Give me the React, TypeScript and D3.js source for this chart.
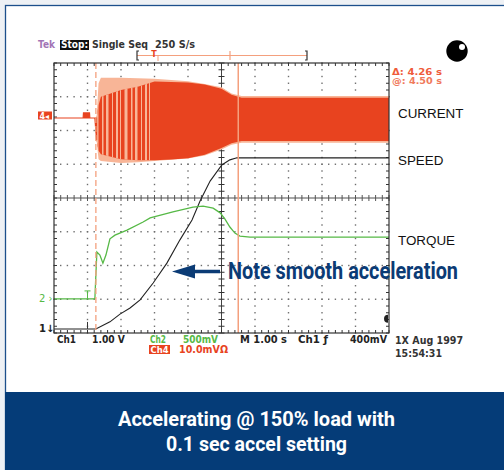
import React from 'react';
import * as d3 from 'd3';

// time in seconds (1.00 s/div), values in divisions (centre = 0)
const speedT = [0, 1.25, 1.67, 1.97, 2.27, 2.57, 2.96, 3.37, 3.76, 4.12, 4.36, 4.66, 5.01, 5.25, 5.46, 10];
const speedV = [-3.88, -3.88, -3.67, -3.44, -3.26, -3.02, -2.52, -1.93, -1.24, -0.65, -0.09, 0.5, 0.98, 1.13, 1.19, 1.19];

const torqueT = [0, 1.22, 1.25, 1.28, 1.37, 1.46, 1.55, 1.67, 1.82, 2.18, 2.66, 2.87, 3.55, 4.15, 4.45, 4.75, 4.96, 5.1, 5.25, 5.4, 5.55, 5.85, 10];
const torqueV = [-2.99, -2.99, -2.28, -1.6, -1.69, -1.93, -1.69, -1.21, -1.1, -0.95, -0.71, -0.59, -0.41, -0.27, -0.24, -0.3, -0.44, -0.62, -0.86, -1.04, -1.13, -1.16, -1.16];

const currentT = [0, 0.87, 0.88, 1.06, 1.07, 1.22, 1.27, 1.33, 1.4, 2.0, 2.5, 3.0, 3.5, 4.0, 4.5, 5.0, 5.3, 5.6, 10];
const currentHi = [2.37, 2.37, 2.52, 2.52, 2.37, 2.37, 2.37, 3.4, 3.56, 3.56, 3.55, 3.53, 3.5, 3.46, 3.38, 3.28, 3.1, 3.02, 3.02];
const currentLo = [2.37, 2.37, 2.37, 2.37, 2.37, 2.37, 1.72, 1.15, 1.1, 1.04, 1.06, 1.1, 1.13, 1.17, 1.26, 1.44, 1.58, 1.64, 1.64];
const coreHi = [2.37, 2.37, 2.52, 2.52, 2.37, 2.37, 2.37, 2.75, 3.0, 3.2, 3.3, 3.45, 3.44, 3.42, 3.36, 3.24, 3.06, 2.97, 2.97];
const coreLo = [2.37, 2.37, 2.37, 2.37, 2.37, 2.37, 1.72, 1.4, 1.3, 1.15, 1.12, 1.12, 1.14, 1.18, 1.28, 1.48, 1.62, 1.69, 1.69];

const traceNames = ['CURRENT', 'SPEED', 'TORQUE'];
const traceLabelV = [2.37, 0.98, -1.39];

const headerTexts = ['Tek', 'Stop:', 'Single Seq', '250 S/s'];
const cursorTexts = ['\u0394: 4.26 s', '@: 4.50 s'];
const footerTexts = ['Ch1', '1.00 V', 'Ch2', '500mV', 'M 1.00 s', 'Ch1 \u0192', '400mV'];
const footer2Texts = ['Ch4', '10.0mV\u03A9'];
const dateTexts = ['1X Aug 1997', '15:54:31'];
const noteText = 'Note smooth acceleration';
const captionLines = ['Accelerating @ 150% load with', '0.1 sec accel setting'];

const cursorTimes = [1.25, 5.5];
const triggerTime = 1.0;

const W = 504;
const H = 470;

export default function App() {
  const x = d3.scaleLinear().domain([0, 10]).range([54, 389]);
  const y = d3.scaleLinear().domain([-4, 4]).range([333, 63]);

  const lineGen = d3
    .line<[number, number]>()
    .x((d) => x(d[0]))
    .y((d) => y(d[1]));

  const speedPts = speedT.map((t, i) => [t, speedV[i]] as [number, number]);
  const torquePts = torqueT.map((t, i) => [t, torqueV[i]] as [number, number]);

  const cur = currentT.map((t, i) => ({ t, hi: currentHi[i], lo: currentLo[i], chi: coreHi[i], clo: coreLo[i] }));
  const outerArea = d3
    .area<any>()
    .x((d) => x(d.t))
    .y0((d) => y(d.lo))
    .y1((d) => y(d.hi))(cur.filter((d) => d.t >= 1.22)) as string;
  const coreArea = d3
    .area<any>()
    .x((d) => x(d.t))
    .y0((d) => y(d.clo))
    .y1((d) => y(d.chi))(cur.filter((d) => d.t >= 1.22)) as string;
  const preArea = d3
    .area<any>()
    .x((d) => x(d.t))
    .y0((d) => y(d.lo))
    .y1((d) => y(d.hi))(cur.filter((d) => d.t <= 1.27)) as string;

  const minorT = d3.range(0, 50.01, 1).map((k) => k * 0.2);
  const minorV = d3.range(0, 40.01, 1).map((k) => -4 + k * 0.2);
  const divT = d3.range(1, 10);
  const divV = d3.range(-3, 4);

  const dots: JSX.Element[] = [];
  divT.forEach((t) => {
    if (t === 5) return;
    minorV.forEach((v, j) => {
      dots.push(<rect key={`vd${t}-${j}`} x={x(t) - 0.7} y={y(v) - 0.7} width={1.4} height={1.4} fill="#6d6d6d" />);
    });
  });
  divV.forEach((v) => {
    if (v === 0) return;
    minorT.forEach((t, j) => {
      dots.push(<rect key={`hd${v}-${j}`} x={x(t) - 0.7} y={y(v) - 0.7} width={1.4} height={1.4} fill="#6d6d6d" />);
    });
  });

  const ticks: JSX.Element[] = [];
  minorV.forEach((v, j) => {
    ticks.push(<line key={`cv${j}`} x1={x(5) - 3} x2={x(5) + 3} y1={y(v)} y2={y(v)} stroke="#333" strokeWidth={1} />);
    ticks.push(<line key={`lv${j}`} x1={x(0)} x2={x(0) + 3} y1={y(v)} y2={y(v)} stroke="#333" strokeWidth={1} />);
    ticks.push(<line key={`rv${j}`} x1={x(10) - 3} x2={x(10)} y1={y(v)} y2={y(v)} stroke="#333" strokeWidth={1} />);
  });
  minorT.forEach((t, j) => {
    ticks.push(<line key={`ch${j}`} x1={x(t)} x2={x(t)} y1={y(0) - 3} y2={y(0) + 3} stroke="#555" strokeWidth={1} />);
    ticks.push(<line key={`th${j}`} x1={x(t)} x2={x(t)} y1={y(4)} y2={y(4) + 3} stroke="#333" strokeWidth={1} />);
    ticks.push(<line key={`bh${j}`} x1={x(t)} x2={x(t)} y1={y(-4) - 3} y2={y(-4)} stroke="#333" strokeWidth={1} />);
  });

  const mono = "'DejaVu Sans', sans-serif";
  const sans = "'Liberation Sans', Arial, sans-serif";
  const narrow = "'Liberation Sans Narrow', 'Roboto', 'Liberation Sans', sans-serif";
  const orange = '#e8431f';
  const peach = '#f8b597';
  const cursorCol = '#f4a07e';
  const green = '#56b946';
  const navy = '#0b3b75';

  return (
    <svg width={W} height={H} viewBox={`0 0 ${W} ${H}`} style={{ position: 'absolute', left: 0, top: 0, display: 'block' }}>
      <defs>
        <pattern id="stripes" width={29} height={10} patternUnits="userSpaceOnUse">
          <rect x={0} y={0} width={2} height={10} fill={peach} />
          <rect x={4} y={0} width={1} height={10} fill={peach} />
          <rect x={8.5} y={0} width={3} height={10} fill={peach} />
          <rect x={15} y={0} width={1.5} height={10} fill={peach} />
          <rect x={19} y={0} width={2.5} height={10} fill={peach} />
          <rect x={25} y={0} width={1} height={10} fill={peach} />
        </pattern>
        <clipPath id="coreClip">
          <path d={coreArea} />
        </clipPath>
      </defs>
      <rect x={0} y={0} width={W} height={H} fill="#eef1f5" />
      <rect x={5.5} y={5.5} width={W} height={H} fill="#ffffff" stroke="#1d4f8c" strokeWidth={1.3} />

      {/* graticule */}
      {dots}
      <line x1={x(0)} x2={x(10)} y1={y(0)} y2={y(0)} stroke="#8a8a8a" strokeWidth={1.3} />
      <line x1={x(5)} x2={x(5)} y1={y(4)} y2={y(-4)} stroke="#444" strokeWidth={1} />
      {ticks}

      {/* current trace */}
      <path d={outerArea} fill={peach} />
      <path d={coreArea} fill={orange} />
      <rect
        x={x(1.27)}
        y={y(4)}
        width={x(2.95) - x(1.27)}
        height={y(-4) - y(4)}
        fill="url(#stripes)"
        clipPath="url(#coreClip)"
      />
      <path d={preArea} fill={orange} stroke={orange} strokeWidth={1.2} />

      {/* speed and torque */}
      <path d={lineGen(speedPts) as string} fill="none" stroke="#222" strokeWidth={1.1} />
      <path d={lineGen(torquePts) as string} fill="none" stroke={green} strokeWidth={1.3} />

      {/* cursors */}
      <line x1={x(cursorTimes[0])} x2={x(cursorTimes[0])} y1={y(4)} y2={y(-4)} stroke={cursorCol} strokeWidth={1.3} strokeDasharray="6 3" />
      <line x1={x(cursorTimes[1])} x2={x(cursorTimes[1])} y1={y(4)} y2={y(-4)} stroke={cursorCol} strokeWidth={1.5} />

      {/* trigger markers */}
      <line x1={x(triggerTime)} x2={x(triggerTime)} y1={y(-2.99) - 8} y2={y(-2.99)} stroke={green} strokeWidth={1} />
      <line x1={x(triggerTime) - 3} x2={x(triggerTime) + 3} y1={y(-2.99) - 8} y2={y(-2.99) - 8} stroke={green} strokeWidth={1} />
      <line x1={x(triggerTime)} x2={x(triggerTime)} y1={y(-3.88) - 7} y2={y(-3.88)} stroke="#333" strokeWidth={1} />

      {/* border */}
      <rect x={x(0)} y={y(4)} width={x(10) - x(0)} height={y(-4) - y(4)} fill="none" stroke="#333" strokeWidth={1.2} />

      {/* channel markers */}
      <rect x={38} y={111.5} width={14} height={8} fill={orange} />
      <text x={39.5} y={118.5} fontFamily={mono} fontSize={8} fontWeight="bold" fill="#fff">4◂</text>
      <text x={39} y={y(-2.99) + 3.5} fontFamily={mono} fontSize={10} fill={green}>2 ›</text>
      <text x={39} y={y(-3.88) + 3.5} fontFamily={mono} fontSize={10} fontWeight="bold" fill="#222">1↓</text>
      <path d={`M ${x(10) - 1} ${y(-3.58) - 4} A 4 4 0 0 0 ${x(10) - 1} ${y(-3.58) + 4} Z`} fill="#222" />

      {/* header */}
      <text x={38} y={48} fontFamily={mono} fontSize={10} fontWeight="bold" fill="#a274b6" textLength={17} lengthAdjust="spacingAndGlyphs">{headerTexts[0]}</text>
      <rect x={60} y={40} width={29} height={10} fill="#111" />
      <text x={61} y={48} fontFamily={mono} fontSize={10} fontWeight="bold" fill="#fff" textLength={27} lengthAdjust="spacingAndGlyphs">{headerTexts[1]}</text>
      <text x={92} y={48} fontFamily={mono} fontSize={10} fontWeight="bold" fill="#333" textLength={56} lengthAdjust="spacingAndGlyphs">{headerTexts[2]}</text>
      <text x={155} y={48} fontFamily={mono} fontSize={10} fontWeight="bold" fill="#333" textLength={40} lengthAdjust="spacingAndGlyphs">{headerTexts[3]}</text>

      {/* record-length bar */}
      <line x1={137} x2={307} y1={55.5} y2={55.5} stroke={cursorCol} strokeWidth={1.2} />
      <path d="M 139 51 L 137 51 L 137 60 L 139 60" fill="none" stroke="#333" strokeWidth={1.2} />
      <path d="M 305 51 L 307 51 L 307 60 L 305 60" fill="none" stroke="#333" strokeWidth={1.2} />
      <line x1={230} x2={230} y1={51} y2={60} stroke={cursorCol} strokeWidth={1.2} />
      <text x={154} y={57} fontFamily={mono} fontSize={8} fontWeight="bold" fill={orange} textAnchor="middle">T</text>
      <line x1={158} x2={158} y1={56} y2={61} stroke={cursorCol} strokeWidth={1} />

      {/* cursor readouts */}
      <text x={392} y={75} fontFamily={mono} fontSize={9} fontWeight="bold" fill="#ef5b3a" textLength={50} lengthAdjust="spacingAndGlyphs">{cursorTexts[0]}</text>
      <text x={392} y={84} fontFamily={mono} fontSize={8} fontWeight="bold" fill="#f07a5c" textLength={50} lengthAdjust="spacingAndGlyphs">{cursorTexts[1]}</text>

      {/* status ball */}
      <circle cx={457} cy={51} r={10.7} fill="#000" />
      <circle cx={462} cy={47} r={3} fill="#fff" />

      {/* trace labels */}
      {traceNames.map((n, i) => (
        <text key={n} x={398} y={y(traceLabelV[i])} fontFamily={sans} fontSize={13.4} fill="#111">{n}</text>
      ))}

      {/* annotation */}
      <line x1={220} x2={190} y1={271.5} y2={271.5} stroke={navy} strokeWidth={3.5} />
      <path d="M 172 271.5 L 195 264.5 L 195 278.5 Z" fill={navy} />
      <text x={228} y={279} fontFamily={narrow} fontSize={23} fontWeight="bold" fill={navy} textLength={230} lengthAdjust="spacingAndGlyphs">{noteText}</text>

      {/* footer readouts */}
      <text x={57} y={343} fontFamily={mono} fontSize={10.5} fontWeight="bold" fill="#222" textLength={19} lengthAdjust="spacingAndGlyphs">{footerTexts[0]}</text>
      <text x={92} y={343} fontFamily={mono} fontSize={10.5} fontWeight="bold" fill="#222" textLength={33} lengthAdjust="spacingAndGlyphs">{footerTexts[1]}</text>
      <text x={150} y={343} fontFamily={mono} fontSize={10.5} fontWeight="bold" fill={green} textLength={16} lengthAdjust="spacingAndGlyphs">{footerTexts[2]}</text>
      <text x={183} y={343} fontFamily={mono} fontSize={10.5} fontWeight="bold" fill={green} textLength={35} lengthAdjust="spacingAndGlyphs">{footerTexts[3]}</text>
      <text x={240} y={343} fontFamily={mono} fontSize={10.5} fontWeight="bold" fill="#222" textLength={47} lengthAdjust="spacingAndGlyphs">{footerTexts[4]}</text>
      <text x={298} y={343} fontFamily={mono} fontSize={10.5} fontWeight="bold" fill="#222" textLength={30} lengthAdjust="spacingAndGlyphs">{footerTexts[5]}</text>
      <text x={350} y={343} fontFamily={mono} fontSize={10.5} fontWeight="bold" fill="#222" textLength={37} lengthAdjust="spacingAndGlyphs">{footerTexts[6]}</text>
      <rect x={149} y={345} width={21} height={9} fill={orange} />
      <text x={150.5} y={352.5} fontFamily={mono} fontSize={9} fontWeight="bold" fill="#fff" textLength={18} lengthAdjust="spacingAndGlyphs">{footer2Texts[0]}</text>
      <text x={179} y={353} fontFamily={mono} fontSize={10} fontWeight="bold" fill={orange} textLength={49} lengthAdjust="spacingAndGlyphs">{footer2Texts[1]}</text>
      <text x={395} y={344} fontFamily={mono} fontSize={10} fontWeight="bold" fill="#333" textLength={68} lengthAdjust="spacingAndGlyphs">{dateTexts[0]}</text>
      <text x={395} y={357} fontFamily={mono} fontSize={10} fontWeight="bold" fill="#333" textLength={47} lengthAdjust="spacingAndGlyphs">{dateTexts[1]}</text>

      {/* caption band */}
      <rect x={5} y={392} width={W - 5} height={H - 392} fill="#053c78" />
      <text x={256.5} y={426} fontFamily={narrow} fontSize={19.5} fontWeight="bold" fill="#fff" textAnchor="middle" textLength={277} lengthAdjust="spacingAndGlyphs">{captionLines[0]}</text>
      <text x={256.5} y={450.5} fontFamily={narrow} fontSize={19.5} fontWeight="bold" fill="#fff" textAnchor="middle" textLength={181} lengthAdjust="spacingAndGlyphs">{captionLines[1]}</text>
    </svg>
  );
}
